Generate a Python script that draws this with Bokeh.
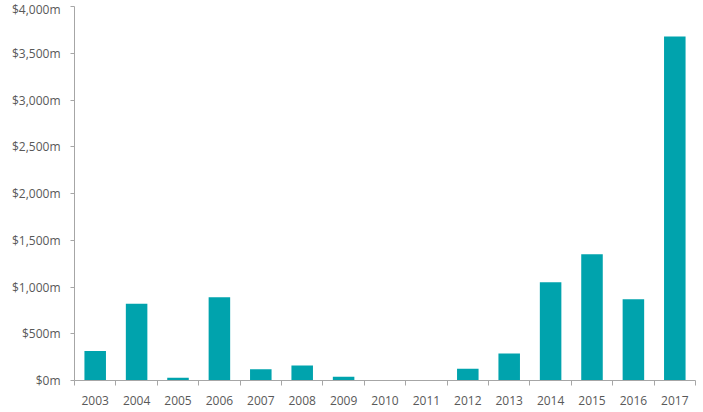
from bokeh.plotting import figure
from bokeh.models import ColumnDataSource, Range1d, FixedTicker
from bokeh.embed import file_html
from bokeh.resources import INLINE

years = ["2003", "2004", "2005", "2006", "2007", "2008", "2009", "2010",
         "2011", "2012", "2013", "2014", "2015", "2016", "2017"]
values = [315, 820, 30, 890, 120, 160, 40, 0, 0, 125, 290, 1050, 1350, 870, 3680]
y_ticks = [0, 500, 1000, 1500, 2000, 2500, 3000, 3500, 4000]
y_labels = ["$0m", "$500m", "$1,000m", "$1,500m", "$2,000m", "$2,500m",
            "$3,000m", "$3,500m", "$4,000m"]

xpos = [i + 0.5 for i in range(len(years))]
src = ColumnDataSource(dict(x=xpos, top=values, year=years))

p = figure(width=697, height=407, output_backend="svg", toolbar_location=None,
           x_range=Range1d(0, len(years)), y_range=Range1d(0, 4000),
           min_border_left=74, min_border_right=2, min_border_top=6,
           min_border_bottom=24)
p.outline_line_color = None
p.background_fill_color = "white"
p.border_fill_color = "white"
p.xgrid.grid_line_color = None
p.ygrid.grid_line_color = None

p.vbar(x="x", top="top", width=0.52, bottom=0, source=src,
       fill_color="#00A3AD", line_color=None)

text_color = "#595959"
axis_color = "#A6A6A6"

xa = p.xaxis[0]
xa.ticker = FixedTicker(ticks=xpos, minor_ticks=list(range(len(years) + 1)))
xa.major_label_overrides = {x: y for x, y in zip(xpos, years)}
xa.major_tick_out = 0
xa.major_tick_in = 0
xa.minor_tick_out = 5
xa.minor_tick_in = 0
xa.minor_tick_line_color = axis_color
xa.axis_line_color = axis_color
xa.major_label_text_color = text_color
xa.major_label_text_font = "Open Sans"
xa.major_label_text_font_size = "12px"
xa.major_label_standoff = 10

ya = p.yaxis[0]
ya.ticker = FixedTicker(ticks=y_ticks)
ya.major_label_overrides = {t: l for t, l in zip(y_ticks, y_labels)}
ya.major_tick_out = 4
ya.major_tick_in = 0
ya.minor_tick_line_color = None
ya.major_tick_line_color = axis_color
ya.axis_line_color = axis_color
ya.major_label_text_color = text_color
ya.major_label_text_font = "Open Sans"
ya.major_label_text_font_size = "12px"
ya.major_label_standoff = 10

open("out.html", "w").write(file_html(p, INLINE))
